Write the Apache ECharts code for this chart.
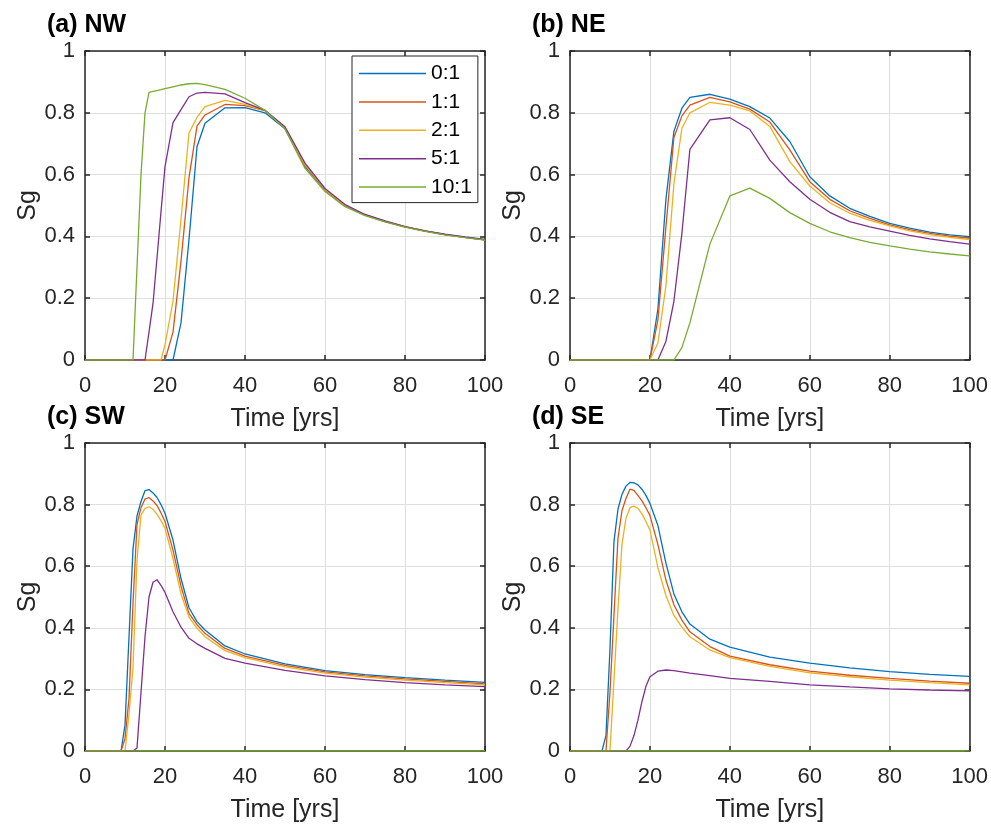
<!DOCTYPE html>
<html>
<head>
    <meta charset="UTF-8">
    <title>Sg vs time</title>
    <script type="text/javascript" src="https://cdn.jsdelivr.net/npm/echarts@6/dist/echarts.min.js"></script>
</head>
<body style="margin: 0;overflow: hidden;background: #fff;">
<div id="chart" style="width: 991px;height: 825px;"></div>
<script type="text/javascript">
    var ratios = ['0:1', '1:1', '2:1', '5:1', '10:1'];
    var colors = ['#0072BD', '#D95319', '#EDB120', '#7E2F8E', '#77AC30'];

    // (a) NW
    var tNW = [0, 12, 13, 14, 15, 16, 17, 18, 19, 20, 22, 24, 26, 28, 30, 35, 40, 45, 50, 55, 60, 65, 70, 75, 80, 85, 90, 95, 100];
    var nw01 = [0, 0, 0, 0, 0, 0, 0, 0, 0, 0, 0, 0.12, 0.39, 0.69, 0.766, 0.816, 0.817, 0.80, 0.748, 0.627, 0.55, 0.50, 0.469, 0.448, 0.431, 0.417, 0.406, 0.397, 0.389];
    var nw11 = [0, 0, 0, 0, 0, 0, 0, 0, 0, 0, 0.09, 0.32, 0.59, 0.757, 0.793, 0.827, 0.823, 0.807, 0.75, 0.63, 0.551, 0.501, 0.47, 0.449, 0.432, 0.418, 0.406, 0.397, 0.389];
    var nw21 = [0, 0, 0, 0, 0, 0, 0, 0, 0, 0.05, 0.19, 0.455, 0.735, 0.785, 0.82, 0.84, 0.827, 0.807, 0.751, 0.632, 0.552, 0.501, 0.47, 0.449, 0.432, 0.418, 0.406, 0.397, 0.389];
    var nw51 = [0, 0, 0, 0, 0, 0.09, 0.183, 0.33, 0.48, 0.626, 0.768, 0.81, 0.852, 0.864, 0.866, 0.861, 0.833, 0.808, 0.755, 0.637, 0.555, 0.503, 0.471, 0.45, 0.432, 0.418, 0.407, 0.398, 0.39];
    var nw101 = [0, 0, 0.30, 0.60, 0.80, 0.866, 0.869, 0.872, 0.875, 0.878, 0.884, 0.89, 0.894, 0.895, 0.891, 0.876, 0.847, 0.808, 0.748, 0.62, 0.545, 0.496, 0.467, 0.447, 0.43, 0.416, 0.405, 0.396, 0.388];

    // (b) NE
    var tNE = [0, 20, 22, 24, 26, 28, 30, 35, 40, 45, 50, 55, 60, 65, 70, 75, 80, 85, 90, 95, 100];
    var ne01 = [0, 0, 0.165, 0.52, 0.74, 0.815, 0.85, 0.86, 0.844, 0.82, 0.783, 0.707, 0.593, 0.531, 0.491, 0.465, 0.442, 0.427, 0.414, 0.405, 0.399];
    var ne11 = [0, 0, 0.13, 0.43, 0.72, 0.79, 0.825, 0.85, 0.835, 0.812, 0.77, 0.68, 0.577, 0.52, 0.483, 0.458, 0.437, 0.422, 0.41, 0.401, 0.394];
    var ne21 = [0, 0, 0.055, 0.24, 0.57, 0.75, 0.80, 0.834, 0.825, 0.806, 0.756, 0.642, 0.563, 0.509, 0.475, 0.452, 0.434, 0.418, 0.406, 0.397, 0.39];
    var ne51 = [0, 0, 0, 0.06, 0.19, 0.41, 0.682, 0.777, 0.784, 0.746, 0.647, 0.577, 0.52, 0.478, 0.448, 0.431, 0.417, 0.403, 0.392, 0.383, 0.375];
    var ne101 = [0, 0, 0, 0, 0, 0.04, 0.12, 0.375, 0.531, 0.556, 0.523, 0.477, 0.442, 0.415, 0.396, 0.381, 0.369, 0.359, 0.35, 0.343, 0.337];

    // (c) SW
    var tSW = [0, 9, 10, 11, 12, 13, 14, 15, 16, 17, 18, 19, 20, 22, 24, 26, 28, 30, 35, 40, 50, 60, 70, 80, 90, 100];
    var sw01 = [0, 0, 0.084, 0.37, 0.656, 0.763, 0.81, 0.845, 0.849, 0.838, 0.823, 0.80, 0.772, 0.685, 0.56, 0.465, 0.42, 0.393, 0.341, 0.315, 0.283, 0.261, 0.248, 0.238, 0.23, 0.223];
    var sw11 = [0, 0, 0.04, 0.17, 0.48, 0.735, 0.79, 0.818, 0.823, 0.812, 0.797, 0.773, 0.745, 0.652, 0.535, 0.447, 0.41, 0.382, 0.333, 0.308, 0.278, 0.257, 0.244, 0.234, 0.226, 0.218];
    var sw21 = [0, 0, 0, 0.12, 0.27, 0.62, 0.765, 0.788, 0.793, 0.785, 0.768, 0.748, 0.723, 0.625, 0.51, 0.435, 0.398, 0.371, 0.326, 0.303, 0.273, 0.253, 0.24, 0.23, 0.222, 0.215];
    var sw51 = [0, 0, 0, 0, 0, 0.01, 0.19, 0.371, 0.50, 0.548, 0.556, 0.538, 0.515, 0.452, 0.402, 0.366, 0.348, 0.333, 0.301, 0.285, 0.262, 0.244, 0.232, 0.222, 0.215, 0.209];
    var sw101 = [0, 0, 0, 0, 0, 0, 0, 0, 0, 0, 0, 0, 0, 0, 0, 0, 0, 0, 0, 0, 0, 0, 0, 0, 0, 0];

    // (d) SE
    var tSE = [0, 8, 9, 10, 11, 12, 13, 14, 15, 16, 17, 18, 19, 20, 22, 24, 26, 28, 30, 35, 40, 50, 60, 70, 80, 90, 100];
    var se01 = [0, 0, 0.05, 0.33, 0.68, 0.785, 0.833, 0.86, 0.872, 0.871, 0.864, 0.85, 0.83, 0.804, 0.732, 0.61, 0.51, 0.452, 0.412, 0.363, 0.337, 0.305, 0.285, 0.27, 0.258, 0.249, 0.242];
    var se11 = [0, 0, 0, 0.19, 0.44, 0.69, 0.78, 0.82, 0.85, 0.846, 0.83, 0.812, 0.79, 0.765, 0.67, 0.555, 0.475, 0.425, 0.387, 0.339, 0.308, 0.28, 0.259, 0.246, 0.236, 0.227, 0.22];
    var se21 = [0, 0, 0, 0, 0.23, 0.46, 0.67, 0.755, 0.79, 0.795, 0.788, 0.77, 0.745, 0.718, 0.595, 0.505, 0.44, 0.402, 0.371, 0.328, 0.303, 0.275, 0.254, 0.241, 0.23, 0.222, 0.215];
    var se51 = [0, 0, 0, 0, 0, 0, 0, 0, 0.015, 0.05, 0.10, 0.16, 0.21, 0.241, 0.259, 0.263, 0.261, 0.257, 0.253, 0.245, 0.236, 0.226, 0.215, 0.208, 0.202, 0.198, 0.195];
    var se101 = [0, 0, 0, 0, 0, 0, 0, 0, 0, 0, 0, 0, 0, 0, 0, 0, 0, 0, 0, 0, 0, 0, 0, 0, 0, 0, 0];

    var panels = [
        {title: '(a) NW', left: 85, top: 51, height: 309, time: tNW, values: [nw01, nw11, nw21, nw51, nw101]},
        {title: '(b) NE', left: 570, top: 51, height: 309, time: tNE, values: [ne01, ne11, ne21, ne51, ne101]},
        {title: '(c) SW', left: 85, top: 443, height: 308, time: tSW, values: [sw01, sw11, sw21, sw51, sw101]},
        {title: '(d) SE', left: 570, top: 443, height: 308, time: tSE, values: [se01, se11, se21, se51, se101]}
    ];

    var font = 'Liberation Sans, Arial, sans-serif';
    var ink = '#262626';

    function pairs(t, v) {
        return t.map(function (x, i) {
            return [x, v[i]];
        });
    }

    var titles = [], grids = [], xAxes = [], yAxes = [], series = [];
    panels.forEach(function (p, i) {
        titles.push({
            text: p.title,
            left: p.left - 43,
            top: p.top - 43,
            textStyle: {fontFamily: font, fontSize: 25, fontWeight: 'bold', color: '#000'}
        });
        grids.push({left: p.left, top: p.top, width: 400, height: p.height, show: false});
        var frame = {show: true, onZero: false, lineStyle: {color: ink, width: 1.5}};
        var tick = {show: true, inside: true, length: 5, lineStyle: {color: ink, width: 1.5}};
        xAxes.push({
            type: 'value', gridIndex: i, min: 0, max: 100, interval: 20, position: 'bottom',
            axisLine: frame, axisTick: tick,
            axisLabel: {fontFamily: font, fontSize: 22, color: ink, margin: 15},
            splitLine: {show: true, lineStyle: {color: '#dedede', width: 1}},
            name: 'Time [yrs]', nameLocation: 'middle', nameGap: 47,
            nameTextStyle: {fontFamily: font, fontSize: 25, color: ink}
        });
        xAxes.push({
            type: 'value', gridIndex: i, min: 0, max: 100, interval: 20, position: 'top',
            axisLine: frame, axisTick: tick, axisLabel: {show: false}, splitLine: {show: false}
        });
        yAxes.push({
            type: 'value', gridIndex: i, min: 0, max: 1, interval: 0.2, position: 'left',
            axisLine: frame, axisTick: tick,
            axisLabel: {fontFamily: font, fontSize: 22, color: ink, margin: 10},
            splitLine: {show: true, lineStyle: {color: '#dedede', width: 1}},
            name: 'Sg', nameLocation: 'middle', nameGap: 44,
            nameTextStyle: {fontFamily: font, fontSize: 25, color: ink}
        });
        yAxes.push({
            type: 'value', gridIndex: i, min: 0, max: 1, interval: 0.2, position: 'right',
            axisLine: frame, axisTick: tick, axisLabel: {show: false}, splitLine: {show: false}
        });
        p.values.forEach(function (v, k) {
            series.push({
                name: ratios[k],
                type: 'line',
                xAxisIndex: 2 * i,
                yAxisIndex: 2 * i,
                symbol: 'none',
                animation: false,
                color: colors[k],
                lineStyle: {color: colors[k], width: 1.3},
                data: pairs(p.time, v)
            });
        });
    });

    var chart = echarts.init(document.getElementById('chart'));
    chart.setOption({
        backgroundColor: '#fff',
        animation: false,
        title: titles,
        legend: {
            data: ratios,
            orient: 'vertical',
            left: 352,
            top: 56,
            padding: [7, 6, 5, 7],
            icon: 'rect',
            itemWidth: 67,
            itemHeight: 1.5,
            itemGap: 7.4,
            backgroundColor: '#fff',
            borderColor: ink,
            borderWidth: 1,
            textStyle: {fontFamily: font, fontSize: 21, lineHeight: 20, color: '#000', padding: [0, 0, 0, 0]}
        },
        grid: grids,
        xAxis: xAxes,
        yAxis: yAxes,
        series: series
    });
</script>
</body>
</html>
